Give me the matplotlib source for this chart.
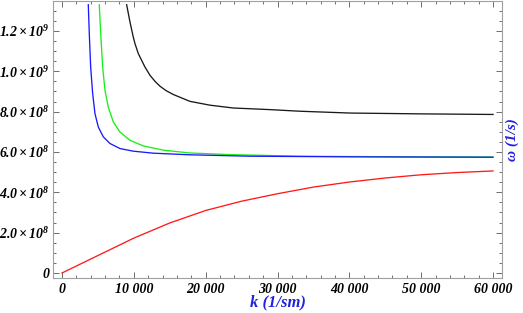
import matplotlib
matplotlib.use("Agg")
import matplotlib.pyplot as plt
from matplotlib.ticker import MultipleLocator, FuncFormatter

# values (k in 1/sm, omega in 1/s)
k_blue = [3660, 3800, 3990, 4270, 4590, 5050, 5750, 6680, 8070, 9920, 12710, 17810,
          26170, 40090, 60000]
w_blue = [1.33e9, 1.186e9, 1.021e9, 0.889e9, 0.790e9, 0.724e9, 0.675e9, 0.642e9, 0.617e9,
          0.604e9, 0.594e9, 0.586e9, 0.579e9, 0.576e9, 0.574e9]

k_green = [5190, 5390, 5660, 5980, 6440, 7140, 8070, 9460, 11310, 14100, 17810, 23380,
           33120, 47040, 60000]
w_green = [1.33e9, 1.186e9, 1.021e9, 0.906e9, 0.823e9, 0.749e9, 0.699e9, 0.658e9, 0.630e9,
           0.609e9, 0.595e9, 0.587e9, 0.579e9, 0.576e9, 0.575e9]

k_black = [9000, 9460, 9920, 10160, 10620, 11090, 11550, 12250, 12950, 13640, 14500, 15490,
           17810, 20600, 23840, 28950, 33120, 40090, 49830, 60000]
w_black = [1.33e9, 1.245e9, 1.170e9, 1.137e9, 1.088e9, 1.054e9, 1.021e9, 0.980e9, 0.950e9,
           0.926e9, 0.904e9, 0.885e9, 0.851e9, 0.832e9, 0.818e9, 0.810e9, 0.802e9, 0.793e9,
           0.789e9, 0.786e9]

k_red = [0, 5000, 10000, 15000, 20000, 25000, 30000, 35000, 40000, 45000, 50000, 55000, 60000]
w_red = [0, 0.0866e9, 0.173e9, 0.248e9, 0.310e9, 0.356e9, 0.393e9, 0.426e9, 0.451e9,
         0.471e9, 0.487e9, 0.498e9, 0.506e9]

plt.rcParams['mathtext.fontset'] = 'custom'
plt.rcParams['mathtext.rm'] = 'Liberation Serif:bold:italic'
plt.rcParams['mathtext.it'] = 'Liberation Serif:bold:italic'
plt.rcParams['mathtext.bf'] = 'Liberation Serif:bold:italic'

font = dict(family='Liberation Serif', weight='bold', style='italic')

fig = plt.figure(figsize=(5.23, 3.13), dpi=100)
ax = fig.add_axes([53/523, 35/313, 449/523, 277.5/313])

lw = 0.95
ax.plot(k_red, w_red, color='#ff1a1a', lw=lw, solid_joinstyle='round')
ax.plot(k_green, w_green, color='#1aee1a', lw=lw, solid_joinstyle='round')
ax.plot(k_blue, w_blue, color='#1a1aff', lw=lw, solid_joinstyle='round')
ax.plot(k_black, w_black, color='#1a1a1a', lw=lw, solid_joinstyle='round')

ax.set_xlim(-1253, 61250)
ax.set_ylim(-2.48e7, 1.351e9)

for s in ax.spines.values():
    s.set_color('#a0a0a0')
    s.set_linewidth(0.8)

ax.xaxis.set_major_locator(MultipleLocator(10000))
ax.xaxis.set_minor_locator(MultipleLocator(2000))
ax.yaxis.set_major_locator(MultipleLocator(2e8))
ax.yaxis.set_minor_locator(MultipleLocator(5e7))

def xfmt(v, pos):
    v = int(round(v))
    if v < 10000:
        return str(v)
    return f"{v // 1000} {v % 1000:03d}"

def yfmt(v, pos):
    if abs(v) < 1:
        return "0"
    e = 8 if v < 1e9 - 1 else 9
    m = v / 10**e
    return rf"$\mathregular{{{m:.1f}\times10^{{{e}}}}}$"

ax.xaxis.set_major_formatter(FuncFormatter(xfmt))
ax.yaxis.set_major_formatter(FuncFormatter(yfmt))

ax.tick_params(which='both', direction='in', top=True, right=True, color='#555555', width=0.6)
ax.tick_params(which='major', length=4)
ax.tick_params(which='minor', length=2)
ax.tick_params(axis='x', pad=3.5)
ax.tick_params(axis='y', pad=2.5)
for lab in ax.get_xticklabels() + ax.get_yticklabels():
    lab.set_fontfamily('Liberation Serif')
    lab.set_fontweight('bold')
    lab.set_fontstyle('italic')
    lab.set_fontsize(10)

ax.set_xlabel("k (1/sm)", color='#2222dd', fontsize=12, labelpad=-1, **font)
ax.yaxis.set_label_position('right')
ax.set_ylabel("ω (1/s)", color='#2222dd', fontsize=11, labelpad=2.5, **font)

fig.savefig("out.png", dpi=100)
